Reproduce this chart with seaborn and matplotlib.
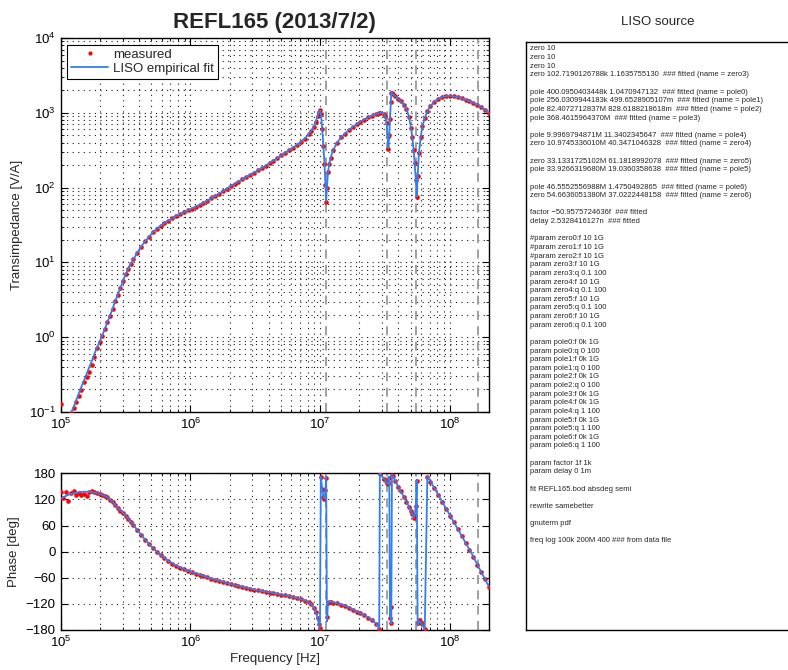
import matplotlib
matplotlib.use("Agg")
import matplotlib.pyplot as plt
from matplotlib.lines import Line2D
import numpy as np
import seaborn as sns

sns.set_theme(style="ticks")
plt.rcParams["font.family"] = ["Liberation Sans", "DejaVu Sans"]
plt.rcParams["mathtext.fontset"] = "custom"
plt.rcParams["mathtext.rm"] = "Liberation Sans"
plt.rcParams["mathtext.it"] = "Liberation Sans:italic"
plt.rcParams["mathtext.bf"] = "Liberation Sans:bold"

FIT_BLUE = "#2f7ff0"

# frequency points, log10(Hz)
log_freq = [
    5.00, 5.02, 5.04, 5.06, 5.08, 5.10, 5.12, 5.14, 5.16, 5.18, 5.20, 5.22, 5.24, 5.26, 5.28,
    5.30, 5.32, 5.34, 5.36, 5.38, 5.40, 5.42, 5.44, 5.46, 5.48, 5.50, 5.52, 5.54, 5.56,
    5.59, 5.62, 5.65, 5.68, 5.71, 5.74, 5.77, 5.80, 5.83, 5.86, 5.89, 5.92, 5.95, 5.98, 6.01,
    6.04, 6.07, 6.10, 6.13, 6.16, 6.19, 6.22, 6.25, 6.28, 6.31, 6.34, 6.37, 6.40, 6.43, 6.46,
    6.49, 6.52, 6.55, 6.58, 6.61, 6.64, 6.67, 6.70, 6.73, 6.76, 6.79, 6.82, 6.85, 6.88, 6.91,
    6.93, 6.95, 6.965, 6.98, 6.99, 6.998, 7.005, 7.015, 7.025, 7.033, 7.040, 7.046, 7.052,
    7.060, 7.070, 7.080, 7.10,
    7.13, 7.16, 7.19, 7.22, 7.25, 7.28, 7.31, 7.34, 7.37, 7.40, 7.43, 7.455, 7.46, 7.49,
    7.50, 7.512, 7.520, 7.526, 7.532, 7.538, 7.544, 7.548, 7.553, 7.56, 7.58,
    7.60, 7.62, 7.645, 7.665, 7.684, 7.70, 7.710, 7.72, 7.728, 7.737, 7.744, 7.751, 7.761,
    7.775, 7.788, 7.806, 7.826,
    7.85, 7.88, 7.91, 7.94, 7.97, 8.00, 8.03, 8.06, 8.09, 8.12, 8.15, 8.18, 8.21, 8.24, 8.27, 8.30,
]

# transimpedance, log10(V/A)
mag_measured = [
    -0.89, -1.22, -1.15, -1.06, -1.02, -0.95, -0.86, -0.78, -0.70, -0.60, -0.53, -0.46, -0.37, -0.26, -0.15,
    -0.06, 0.02, 0.11, 0.20, 0.29, 0.38, 0.48, 0.57, 0.66, 0.75, 0.84, 0.91, 0.98, 1.04,
    1.13, 1.21, 1.28, 1.34, 1.40, 1.45, 1.49, 1.53, 1.56, 1.59, 1.62, 1.645, 1.67, 1.695, 1.72,
    1.745, 1.77, 1.795, 1.825, 1.855, 1.885, 1.92, 1.95, 1.985, 2.02, 2.05, 2.08, 2.11, 2.14, 2.17,
    2.20, 2.23, 2.26, 2.295, 2.33, 2.36, 2.395, 2.43, 2.465, 2.50, 2.535, 2.57, 2.61, 2.655, 2.71,
    2.76, 2.815, 2.88, 2.96, 3.01, 3.04, 2.99, 2.79, 2.55, 2.32, 2.04, 1.81, 2.00,
    2.21, 2.32, 2.40, 2.50,
    2.60, 2.67, 2.72, 2.77, 2.81, 2.845, 2.88, 2.91, 2.94, 2.96, 2.98, 2.995, 3.00, 2.99,
    2.96, 2.86, 2.67, 2.51, 2.70, 2.92, 3.15, 3.27, 3.27, 3.25, 3.22,
    3.19, 3.155, 3.11, 3.05, 2.95, 2.80, 2.68, 2.50, 2.33, 2.10, 1.87, 2.15, 2.46,
    2.68, 2.82, 2.93, 3.02,
    3.09, 3.15, 3.19, 3.21, 3.222, 3.227, 3.22, 3.21, 3.195, 3.175, 3.155, 3.135, 3.11, 3.08, 3.04, 3.00,
]
mag_fit = [
    -1.36, -1.26, -1.17, -1.08, -1.01, -0.93, -0.84, -0.75, -0.66, -0.58, -0.49, -0.40, -0.32, -0.22, -0.14,
    -0.06, 0.02, 0.11, 0.20, 0.29, 0.38, 0.48, 0.57, 0.66, 0.75, 0.84, 0.91, 0.98, 1.04,
    1.13, 1.21, 1.28, 1.34, 1.40, 1.45, 1.49, 1.53, 1.56, 1.59, 1.62, 1.645, 1.67, 1.695, 1.72,
    1.745, 1.77, 1.795, 1.825, 1.855, 1.885, 1.92, 1.95, 1.985, 2.02, 2.05, 2.08, 2.11, 2.14, 2.17,
    2.20, 2.23, 2.26, 2.295, 2.33, 2.36, 2.395, 2.43, 2.465, 2.50, 2.535, 2.57, 2.61, 2.655, 2.71,
    2.76, 2.815, 2.88, 2.96, 3.01, 3.03, 3.00, 2.80, 2.55, 2.33, 2.05, 1.82, 2.00,
    2.20, 2.32, 2.40, 2.50,
    2.60, 2.67, 2.72, 2.77, 2.81, 2.845, 2.88, 2.91, 2.94, 2.96, 2.98, 2.995, 3.00, 2.99,
    2.96, 2.86, 2.68, 2.53, 2.70, 2.91, 3.15, 3.27, 3.265, 3.25, 3.22,
    3.19, 3.155, 3.11, 3.05, 2.95, 2.80, 2.68, 2.50, 2.33, 2.10, 1.88, 2.15, 2.46,
    2.68, 2.82, 2.93, 3.02,
    3.09, 3.15, 3.19, 3.21, 3.222, 3.227, 3.22, 3.21, 3.195, 3.175, 3.155, 3.135, 3.11, 3.08, 3.04, 3.00,
]

# phase, degrees (wrapped to +-180)
phase_measured = [
    136, 124, 138, 117, 134, 139, 131, 135, 129, 133, 128, 138, 139, 137, 135.5,
    133.5, 131, 128.5, 124.5, 119.5, 113.5, 106.5, 100.5, 94.5, 88.5, 82.5, 76, 68.5, 61,
    49.5, 38, 27.5, 17, 8, 0, -8, -15, -21.5, -27.5, -32.5, -37, -40.8, -44, -47.3,
    -50.3, -53, -55.8, -59.2, -62, -64.7, -67.2, -69.8, -72.2, -74.7, -77.2, -79.2, -81.2, -83.2, -85.2,
    -87.2, -89, -90.7, -92.5, -94.2, -95.7, -97.2, -98.8, -100.5, -102.4, -104.5, -106.7, -109.2, -112.3, -116.3,
    -120.5, -128.5, -138.5, -152.5, -165.5, -176, 171, 144, 125.5, 122, 141, 170, -150,
    -119, -115.5, -116, -117,
    -119, -121.5, -124.5, -128.5, -133, -137.5, -142, -146.5, -151.5, -157.5, -165.5, -177.5, 178.5, 168,
    163.5, 157.5, 155.5, 159, 170, -152, -127, -163, 175, 173.5, 161.5,
    149.5, 138.5, 125.5, 113.5, 103.5, 92.5, 85.5, 77.5, 83, 104, 163, -165, -158, -161, -167, -178, 172.5,
    160.5, 145.5, 130, 114.5, 98.5, 83, 67.5, 51.5, 36, 20.5, 4.5, -11.5, -30, -46.5, -63.5, -80.5,
]
phase_fit = [
    122, 125, 128, 130.5, 132.5, 134, 135.5, 136.5, 137.2, 137.6, 137.7, 137.4, 136.8, 135.8, 134.5,
    132.8, 130.5, 128, 125, 120, 114, 107, 101, 95, 89, 83, 76.5, 69, 61.5,
    50, 38.5, 28, 17.5, 8.5, 0.3, -7.5, -14.5, -21, -27, -32, -36.5, -40.3, -43.7, -47,
    -50, -52.8, -55.5, -59, -61.8, -64.5, -67, -69.5, -72, -74.5, -77, -79, -81, -83, -85,
    -87, -88.8, -90.5, -92.3, -94, -95.5, -97, -98.6, -100.3, -102.2, -104.3, -106.5, -109, -112, -116,
    -120, -128, -138, -152, -165, -176, 172, 145, 126, 122, 140, 172, -160,
    -118, -115, -115.5, -116.5,
    -118.5, -121, -124, -128, -132.5, -137, -141.5, -146, -151, -157, -165, -177, 179, 168.5,
    164, 158, 156, 160, 172, -150, -125, -165, 176, 174, 162,
    150, 139, 126, 114, 104, 93, 86, 78, 84, 105, 165, -170, -160, -162, -168, -178, 173,
    161, 146, 130.5, 115, 99, 83.5, 68, 52, 36.5, 21, 5, -11, -29.5, -46, -63, -80,
]

# 11 MHz harmonics marked with dashed lines
harmonic_freqs = [11e6, 33e6, 55e6, 165e6]

liso_lines = [
    "zero 10",
    "zero 10",
    "zero 10",
    "zero 102.7190126788k 1.1635755130  ### fitted (name = zero3)",
    "",
    "pole 400.0950403448k 1.0470947132  ### fitted (name = pole0)",
    "pole 256.0309944183k 499.6528905107m  ### fitted (name = pole1)",
    "pole 82.4072712837M 828.6188218618m  ### fitted (name = pole2)",
    "pole 368.4615964370M  ### fitted (name = pole3)",
    "",
    "pole 9.9969794871M 11.3402345647  ### fitted (name = pole4)",
    "zero 10.9745336010M 40.3471046328  ### fitted (name = zero4)",
    "",
    "zero 33.1331725102M 61.1818992078  ### fitted (name = zero5)",
    "pole 33.9266319680M 19.0360358638  ### fitted (name = pole5)",
    "",
    "pole 46.5552556988M 1.4750492865  ### fitted (name = pole6)",
    "zero 54.6636051380M 37.0222448158  ### fitted (name = zero6)",
    "",
    "factor \u221250.9575724636f  ### fitted",
    "delay 2.5328416127n  ### fitted",
    "",
    "#param zero0:f 10 1G",
    "#param zero1:f 10 1G",
    "#param zero2:f 10 1G",
    "param zero3:f 10 1G",
    "param zero3:q 0.1 100",
    "param zero4:f 10 1G",
    "param zero4:q 0.1 100",
    "param zero5:f 10 1G",
    "param zero5:q 0.1 100",
    "param zero6:f 10 1G",
    "param zero6:q 0.1 100",
    "",
    "param pole0:f 0k 1G",
    "param pole0:q 0 100",
    "param pole1:f 0k 1G",
    "param pole1:q 0 100",
    "param pole2:f 0k 1G",
    "param pole2:q 0 100",
    "param pole3:f 0k 1G",
    "param pole4:f 0k 1G",
    "param pole4:q 1 100",
    "param pole5:f 0k 1G",
    "param pole5:q 1 100",
    "param pole6:f 0k 1G",
    "param pole6:q 1 100",
    "",
    "param factor 1f 1k",
    "param delay 0 1m",
    "",
    "fit REFL165.bod absdeg semi",
    "",
    "rewrite samebetter",
    "",
    "gnuterm pdf",
    "",
    "freq log 100k 200M 400 ### from data file",
]

W, H = 788, 670
freq = 10 ** np.asarray(log_freq)

fig = plt.figure(figsize=(W / 100, H / 100), dpi=100)
ax_mag = fig.add_axes([60.7 / W, 1 - 412 / H, 428.3 / W, 374 / H])
ax_ph = fig.add_axes([60.7 / W, 1 - 630 / H, 428.3 / W, 156.7 / H])

for ax in (ax_mag, ax_ph):
    ax.set_xscale("log")
ax_mag.set_yscale("log")

# magnitude
sns.scatterplot(x=freq, y=10 ** np.asarray(mag_measured), color="red", s=11,
                linewidth=0, ax=ax_mag, zorder=3)
sns.lineplot(x=freq, y=10 ** np.asarray(mag_fit), color=FIT_BLUE, linewidth=1.3,
             estimator=None, sort=False, ax=ax_mag, zorder=4)

# phase
sns.scatterplot(x=freq, y=phase_measured, color="red", s=11, linewidth=0,
                ax=ax_ph, zorder=3)
sns.lineplot(x=freq, y=phase_fit, color=FIT_BLUE, linewidth=1.3,
             estimator=None, sort=False, ax=ax_ph, zorder=4)

for ax in (ax_mag, ax_ph):
    for f in harmonic_freqs:
        ax.axvline(f, color="0.6", linestyle=(0, (5, 3.5)), linewidth=1.3, zorder=2)
    ax.set_xlim(1e5, 2e8)
    ax.grid(True, which="both", linestyle=(0, (1, 4)), color="0.1", linewidth=0.8)
    ax.tick_params(which="both", direction="in", top=True, right=True,
                   labelsize=9.5, colors="black")
    ax.tick_params(which="major", length=5, width=0.8)
    ax.tick_params(which="minor", length=2.5, width=0.6)
    for spine in ax.spines.values():
        spine.set_color("black")
        spine.set_linewidth(1.0)

ax_mag.set_ylim(1e-1, 1e4)
ax_ph.set_ylim(-180, 180)
ax_ph.set_yticks([-180, -120, -60, 0, 60, 120, 180])

ax_mag.set_ylabel("Transimpedance [V/A]", fontsize=9.5)
ax_ph.set_ylabel("Phase [deg]", fontsize=9.5)
ax_ph.set_xlabel("Frequency [Hz]", fontsize=9.5, labelpad=2)
ax_mag.set_xlabel("")
ax_mag.set_title("REFL165 (2013/7/2)", fontsize=16, fontweight="bold", pad=7)

handles = [
    Line2D([], [], linestyle="none", marker=".", color="red", markersize=4),
    Line2D([], [], color=FIT_BLUE, linewidth=1.3),
]
leg = ax_mag.legend(handles, ["measured", "LISO empirical fit"], loc="upper left",
                    fontsize=9.5, frameon=True, fancybox=False, edgecolor="black",
                    framealpha=1, borderaxespad=0.5, handlelength=2.8,
                    handletextpad=0.4, borderpad=0.3, labelspacing=0.15)
leg.get_frame().set_linewidth(0.8)

# LISO source panel
ax_txt = fig.add_axes([526 / W, 1 - 630 / H, 266 / W, 588 / H])
ax_txt.set_xticks([])
ax_txt.set_yticks([])
ax_txt.set_facecolor("white")
for spine in ax_txt.spines.values():
    spine.set_color("black")
    spine.set_linewidth(1.0)
fig.text(658 / W, 1 - 22 / H, "LISO source", ha="center", va="center", fontsize=9.5)
for i, line in enumerate(liso_lines):
    if line:
        fig.text(530 / W, 1 - (49 + i * 8.63) / H, line, ha="left", va="center",
                 fontsize=5.5)

fig.savefig("out.png", dpi=100)
plt.close(fig)
